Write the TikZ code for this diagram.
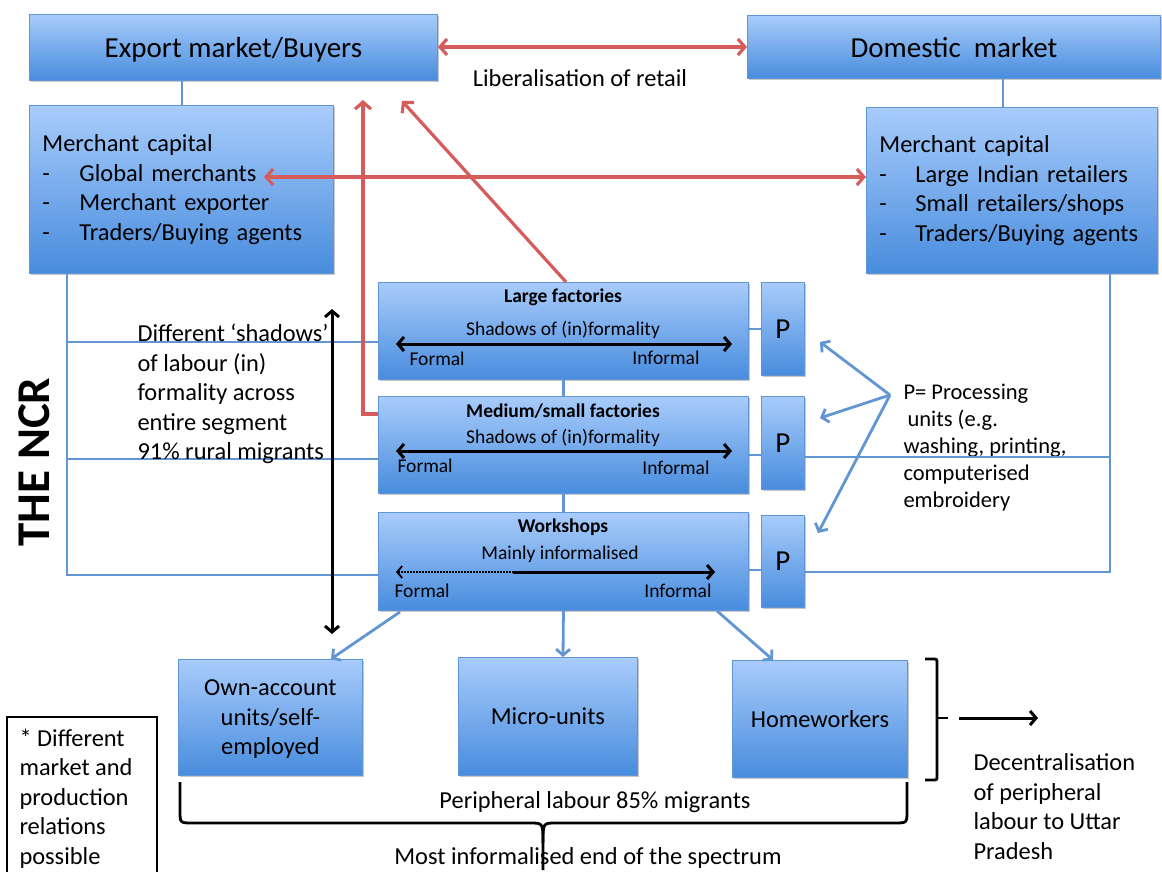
\documentclass[tikz,border=0pt]{standalone}
\usepackage{fontspec}
\setmainfont{Carlito}
\usetikzlibrary{arrows.meta,shadows,calc}

\definecolor{boxtop}{RGB}{168,204,251}
\definecolor{boxbot}{RGB}{72,140,221}
\definecolor{boxline}{RGB}{96,150,214}
\definecolor{linkblue}{RGB}{98,150,210}
\definecolor{linkred}{RGB}{214,92,92}

\newcommand\fsHead{\fontsize{29}{35}\selectfont}
\newcommand\fsBody{\fontsize{24.4}{29.5}\selectfont}
\newcommand\fsSmall{\fontsize{19.5}{23}\selectfont}
\newcommand\fsNote{\fontsize{22.5}{27}\selectfont}

\begin{document}
\begin{tikzpicture}[x=1pt,y=-1pt,
  box/.style={draw=boxline, line width=0.9pt, top color=boxtop, bottom color=boxbot,
    inner sep=0pt, anchor=north west, text=black,
    drop shadow={shadow xshift=1.5pt, shadow yshift=-1.5pt, fill=black, opacity=0.22}},
  cbox/.style={box, text depth=0pt},
  blueline/.style={draw=linkblue, line width=2.8pt},
  bluearrow/.style={blueline, -{Straight Barb[length=6pt,width=14pt,line width=2.8pt]}},
  redline/.style={draw=linkred, line width=3.2pt},
  redarrow/.style={redline, -{Straight Barb[length=7pt,width=16pt,line width=3.2pt]}},
  reddouble/.style={redline, {Straight Barb[length=7pt,width=16pt,line width=3.2pt]}-{Straight Barb[length=7pt,width=16pt,line width=3.2pt]}},
  blkline/.style={draw=black, line width=3pt},
  blkdouble/.style={blkline, {Straight Barb[length=6pt,width=14pt,line width=3pt]}-{Straight Barb[length=6pt,width=14pt,line width=3pt]}},
  blkarrow/.style={blkline, -{Straight Barb[length=6pt,width=14pt,line width=3pt]}},
  brc/.style={draw=black, line width=2.8pt},
  title/.style={font=\fsSmall\bfseries},
  small/.style={font=\fsSmall},
  note/.style={font=\fsBody, align=left, anchor=west}
]
\useasboundingbox[fill=white] (0,0) rectangle (1162,872);

% ---------- markets ----------
\node[cbox, minimum width=408, minimum height=66, font=\fsHead] (exp) at (29,14) {Export market/Buyers};
\node[cbox, minimum width=413, minimum height=63, font=\fsHead] (dom) at (747,15) {Domestic~ market};
\node[font=\fsBody] (lib) at (580,78) {Liberalisation of retail};

% ---------- merchant capital ----------
\node[box, minimum width=304, minimum height=168, text width=278, inner xsep=13pt, align=left, font=\fsBody] (mcL) at (29,105)
  {Merchant capital\\\makebox[37pt][l]{-}Global merchants\\\makebox[37pt][l]{-}Merchant exporter\\\makebox[37pt][l]{-}Traders/Buying agents};
\node[box, minimum width=291, minimum height=166, text width=265, inner xsep=13pt, align=left, font=\fsBody] (mcR) at (866,107)
  {Merchant capital\\\makebox[36pt][l]{-}Large Indian retailers\\\makebox[36pt][l]{-}Small retailers/shops\\\makebox[36pt][l]{-}Traders/Buying agents};

\draw[blueline] (exp.south -| 182,0) -- (mcL.north -| 182,0);
\draw[blueline] (dom.south -| 1003,0) -- (mcR.north -| 1003,0);

% ---------- factories ----------
\node[box, minimum width=370, minimum height=97] (lf) at (378,282) {};
\node[box, minimum width=370, minimum height=97] (mf) at (378,396) {};
\node[box, minimum width=370, minimum height=98] (ws) at (378,512) {};
\draw[blueline] (lf.south) -- (mf.north);
\draw[blueline] (mf.south) -- (ws.north);

\node[title] (lft) at (563,297) {Large factories};
\node[small] (lfs) at (563,330) {Shadows of (in)formality};
\coordinate (lfa) at (396,344); \coordinate (lfb) at (732,344);
\draw[blkdouble] (lfa) -- (lfb);
\node[small, anchor=west] (lff) at (406,359) {Formal};
\node[small, anchor=east] (lfi) at (703,358) {Informal};

\node[title] (mft) at (563,411) {Medium/small factories};
\node[small] (mfs) at (563,438) {Shadows of (in)formality};
\coordinate (mfa) at (396,451); \coordinate (mfb) at (732,451);
\draw[blkdouble] (mfa) -- (mfb);
\node[small, anchor=west] (mff) at (394,466) {Formal};
\node[small, anchor=east] (mfi) at (713,468) {Informal};

\node[title] (wst) at (563,527) {Workshops};
\node[small] (wss) at (560,554) {Mainly informalised};
\coordinate (wsa) at (396,572); \coordinate (wsm) at (513,572); \coordinate (wsb) at (715,572);
\draw[black, line width=1.1pt, dash pattern=on 2pt off 1pt, {Straight Barb[length=5pt,width=12pt,line width=1.8pt]}-] (wsa) -- (wsm);
\draw[blkarrow] (wsm) -- (wsb);
\node[small, anchor=west] (wsf) at (391,591) {Formal};
\node[small, anchor=east] (wsi) at (715,591) {Informal};

% ---------- processing units ----------
\node[cbox, minimum width=43, minimum height=93, font=\fontsize{29}{32}\selectfont] (p1) at (761,282) {P};
\node[cbox, minimum width=43, minimum height=93, font=\fontsize{29}{32}\selectfont] (p2) at (761,396) {P};
\node[cbox, minimum width=43, minimum height=92, font=\fontsize{29}{32}\selectfont] (p3) at (761,515) {P};
\draw[blueline] (lf.east |- 0,329) -- (p1.west |- 0,329);
\draw[blueline] (mf.east |- 0,455) -- (p2.west |- 0,455);
\draw[blueline] (ws.east |- 0,570) -- (p3.west |- 0,570);

\node[font=\fsNote, align=left, anchor=west] (pnote) at (900,447.5)
  {P= Processing\\\hspace{4pt}units (e.g.\\washing, printing,\\computerised\\embroidery};
\coordinate (pfan) at (890,395);
\coordinate (pt1) at (820,342); \coordinate (pt2) at (820,418); \coordinate (pt3) at (818,533);
\draw[bluearrow] (pfan) -- (pt1);
\draw[bluearrow] (pfan) -- (pt2);
\draw[bluearrow] (pfan) -- (pt3);

% ---------- NCR frame lines ----------
\coordinate (lt) at (67,273); \coordinate (lb) at (67,575);
\coordinate (l1) at (67,342); \coordinate (l2) at (67,459);
\draw[blueline] (lt) -- (lb) -- (lb -| ws.west);
\draw[blueline] (l1) -- (l1 -| lf.west);
\draw[blueline] (l2) -- (l2 -| mf.west);

\coordinate (rt) at (1110,273); \coordinate (rb) at (1110,572);
\coordinate (r2) at (1110,457);
\draw[blueline] (rt) -- (rb) -- (rb -| p3.east);
\draw[blueline] (r2) -- (r2 -| p2.east);

\node[rotate=90, font=\fontsize{47}{52}\selectfont\bfseries] (ncr) at (34,462) {THE NCR};

\node[note] (shad) at (134,394)
  {Different ‘shadows’\\of labour (in)\\formality across\\entire segment\\91\% rural migrants};

\coordinate (vt) at (332,309); \coordinate (vb) at (332,634);
\draw[blkdouble] (vt) -- (vb);

% ---------- red market links ----------
\draw[reddouble] (exp.east |- 0,47) -- (dom.west |- 0,47);
\coordinate (gm) at (264,177);
\draw[reddouble] (gm) -- (mcR.west |- 0,177);
\coordinate (lfTop) at (566,282); \coordinate (expT1) at (402,101);
\draw[redarrow] (lfTop) -- (expT1);
\coordinate (expT2) at (363,100);
\draw[redarrow] (mf.west |- 0,414) -- (363,414) -- (expT2);

% ---------- peripheral units ----------
\node[cbox, minimum width=184, minimum height=116, align=center, font=\fsBody] (own) at (178,659) {Own-account\\units/self-\\employed};
\node[cbox, minimum width=179, minimum height=118, font=\fsBody] (micro) at (458,657) {Micro-units};
\node[cbox, minimum width=175, minimum height=117, font=\fsBody] (home) at (732,660) {Homeworkers};

\draw[bluearrow] (ws.south west -| 400,0) ++(0,1) -- (own.north -| 331,0);
\draw[bluearrow] (ws.south) -- (micro.north -| 563,0);
\draw[bluearrow] (ws.south -| 717,0) -- (home.north -| 773,0);

% brace under the peripheral units
\draw[brc] (180,782) -- (180,811) .. controls (180,823) .. (193,823) -- (530,823)
  .. controls (543,823) .. (543,843) -- (543,870);
\draw[brc] (543,843) .. controls (543,823) .. (556,823) -- (894,823)
  .. controls (907,823) .. (907,811) -- (907,782);
\node[font=\fsBody] (periph) at (595,802) {Peripheral labour 85\% migrants};
\node[font=\fsBody] (most) at (588,858) {Most informalised end of the spectrum};

% bracket beside the homeworkers and decentralisation arrow
\draw[brc, rounded corners=2pt] (925,659) -- (937,659) -- (937,780) -- (925,780);
\draw[brc] (937,718) -- (948,718);
\coordinate (da) at (959,718); \coordinate (db) at (1038,718);
\draw[blkarrow] (da) -- (db);
\node[note] (dec) at (970,806.5) {Decentralisation\\of peripheral\\labour to Uttar\\Pradesh};

% side note
\draw[black, line width=1.4pt] (7,880) -- (7,717) -- (157,717) -- (157,880);
\node[note] (side) at (16,798.5) {* Different\\market and\\production\\relations\\possible};
\end{tikzpicture}
\end{document}
